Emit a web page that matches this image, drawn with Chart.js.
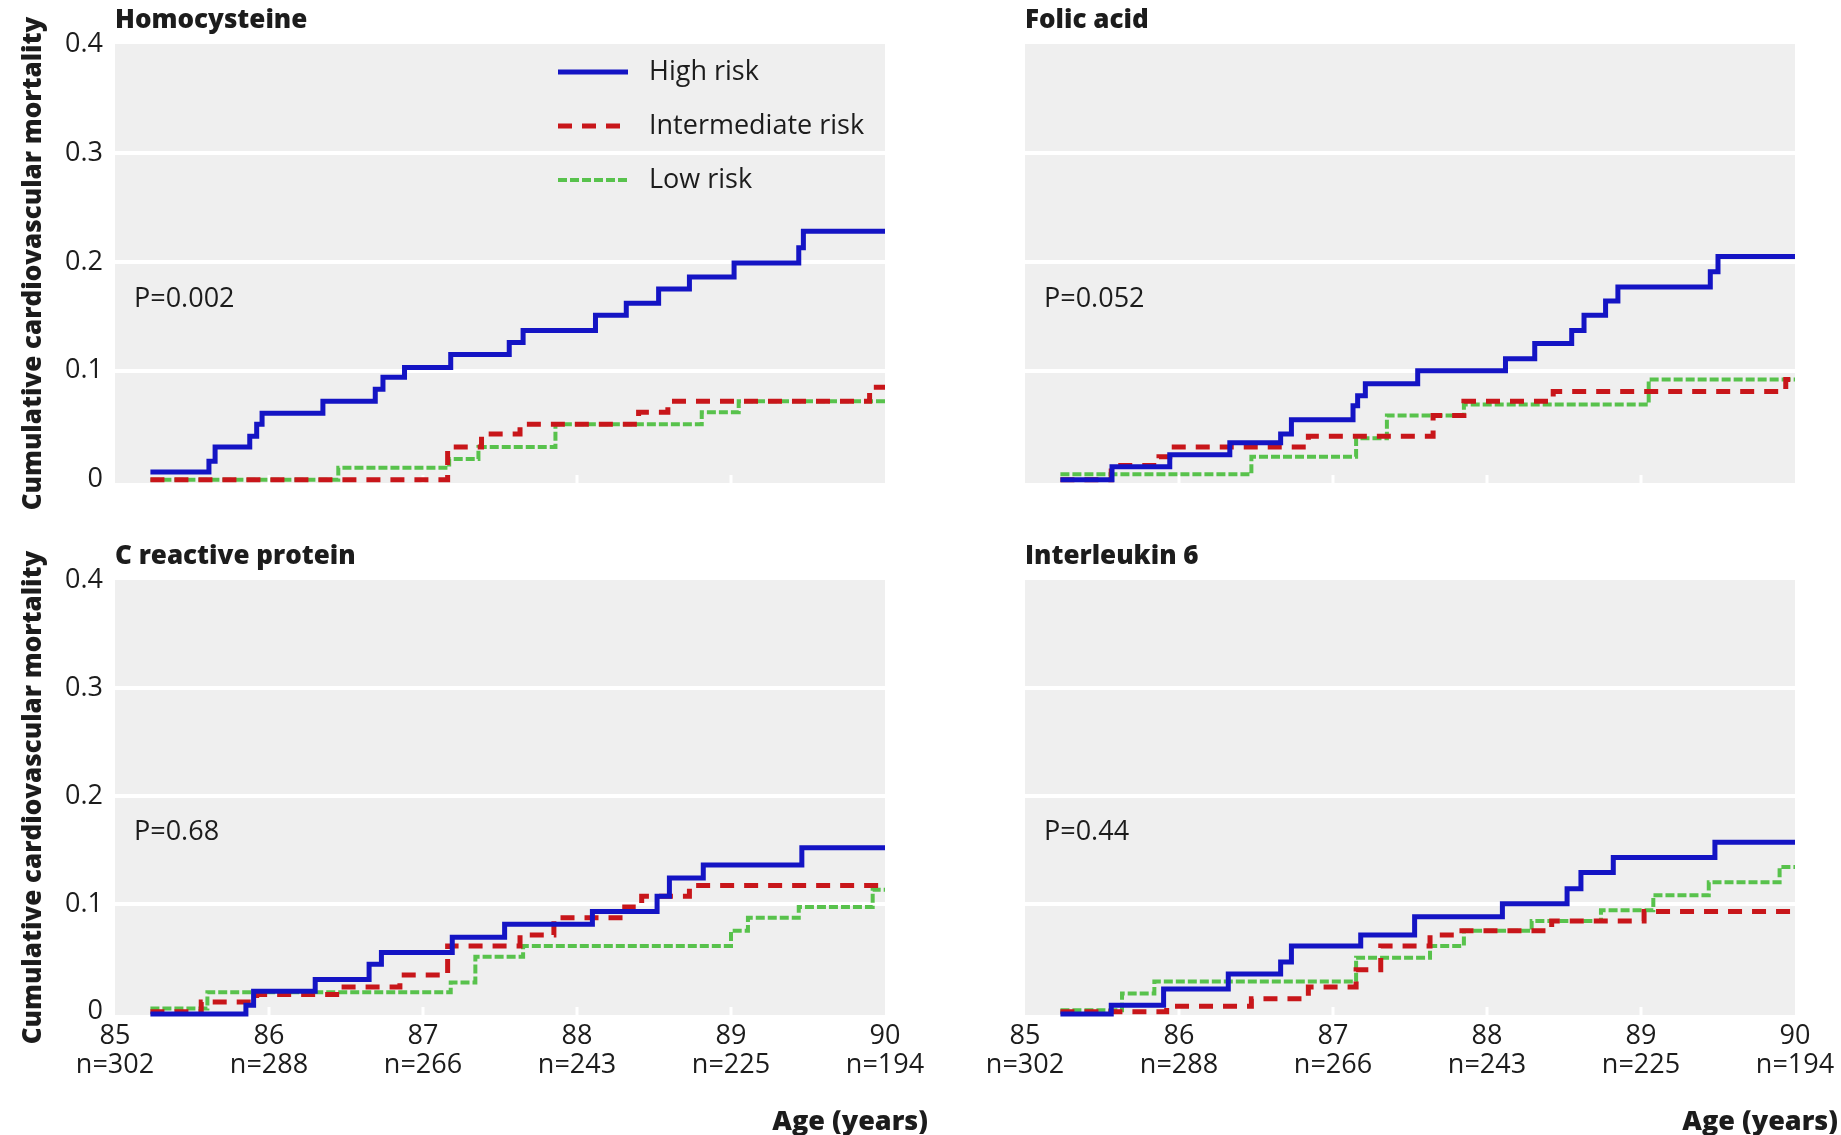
<!DOCTYPE html>
<html>
<head>
<meta charset="utf-8">
<title>Cumulative cardiovascular mortality by risk group</title>
<script src="https://cdn.jsdelivr.net/npm/chart.js@4.4.0/dist/chart.umd.min.js"></script>
<style>
  html, body { margin: 0; padding: 0; background: #fff; }
  #page { position: relative; width: 1841px; height: 1135px; overflow: hidden; }
  .panel { position: absolute; }
  .panel canvas { display: block; }
</style>
</head>
<body>
<div id="page">
  <div class="panel" style="left:0;top:0"><canvas id="homChart" width="920" height="512"></canvas></div>
  <div class="panel" style="left:920px;top:0"><canvas id="folChart" width="921" height="500"></canvas></div>
  <div class="panel" style="left:0;top:500px"><canvas id="crpChart" width="950" height="635"></canvas></div>
  <div class="panel" style="left:920px;top:500px"><canvas id="ilChart" width="921" height="635"></canvas></div>
</div>
<script>
// ---- data (age in years, cumulative mortality) ----
const xTicks = [85, 86, 87, 88, 89, 90];
const atRisk = [302, 288, 266, 243, 225, 194];
const seriesNames = ['High risk', 'Intermediate risk', 'Low risk'];
const panelTitles = ['Homocysteine', 'Folic acid', 'C reactive protein', 'Interleukin 6'];
const pValues = ['P=0.002', 'P=0.052', 'P=0.68', 'P=0.44'];
const yTitle = 'Cumulative cardiovascular mortality';
const xTitle = 'Age (years)';

const homHigh = [[85.23, 0.007], [85.61, 0.017], [85.65, 0.030], [85.875, 0.040], [85.92, 0.051], [85.955, 0.061],
    [86.35, 0.072], [86.69, 0.083], [86.74, 0.094], [86.88, 0.103], [87.18, 0.115], [87.56, 0.126], [87.65, 0.137],
    [88.12, 0.151], [88.32, 0.162], [88.53, 0.175], [88.73, 0.186], [89.02, 0.199], [89.44, 0.213], [89.47, 0.228], [90, 0.228]];
const homInter = [[85.23, 0], [87.16, 0.030], [87.38, 0.042], [87.63, 0.051], [88.40, 0.062], [88.59, 0.072], [89.9, 0.085], [90, 0.085]];
const homLow = [[85.23, 0], [86.45, 0.011], [87.17, 0.019], [87.36, 0.030], [87.86, 0.051], [88.81, 0.062], [89.05, 0.072], [90, 0.072]];

const folHigh = [[85.23, 0], [85.565, 0.012], [85.94, 0.023], [86.33, 0.034], [86.66, 0.042], [86.73, 0.055], [87.13, 0.068],
    [87.16, 0.077], [87.21, 0.088], [87.55, 0.100], [88.12, 0.111], [88.31, 0.125], [88.55, 0.137], [88.63, 0.151],
    [88.77, 0.164], [88.85, 0.177], [89.45, 0.191], [89.50, 0.205], [90, 0.205]];
const folInter = [[85.23, 0], [85.56, 0.013], [85.87, 0.021], [85.94, 0.030], [86.84, 0.040], [87.65, 0.059], [87.85, 0.072],
    [88.43, 0.081], [89.94, 0.092], [90, 0.092]];
const folLow = [[85.23, 0.005], [86.47, 0.021], [87.15, 0.038], [87.35, 0.059], [87.85, 0.069], [89.05, 0.092], [90, 0.092]];

const crpHigh = [[85.23, -0.002], [85.85, 0.006], [85.90, 0.019], [86.30, 0.030], [86.65, 0.044], [86.73, 0.055], [87.19, 0.069],
    [87.53, 0.081], [88.10, 0.093], [88.52, 0.107], [88.60, 0.124], [88.82, 0.136], [89.46, 0.152], [90, 0.152]];
const crpInter = [[85.23, 0], [85.56, 0.009], [85.92, 0.016], [86.47, 0.023], [86.85, 0.034], [87.16, 0.061], [87.63, 0.071],
    [87.85, 0.087], [88.31, 0.097], [88.42, 0.107], [88.73, 0.117], [90, 0.117]];
const crpLow = [[85.23, 0.003], [85.60, 0.018], [87.18, 0.027], [87.34, 0.051], [87.65, 0.061], [89.0, 0.075], [89.11, 0.087],
    [89.44, 0.097], [89.92, 0.113], [90, 0.113]];

const ilHigh = [[85.23, -0.002], [85.56, 0.006], [85.90, 0.021], [86.32, 0.035], [86.66, 0.046], [86.73, 0.061], [87.18, 0.071],
    [87.53, 0.088], [88.10, 0.100], [88.52, 0.114], [88.61, 0.129], [88.82, 0.143], [89.48, 0.157], [90, 0.157]];
const ilInter = [[85.23, 0], [85.92, 0.005], [86.47, 0.012], [86.84, 0.023], [87.15, 0.039], [87.31, 0.061], [87.63, 0.071],
    [87.82, 0.075], [88.42, 0.084], [89.02, 0.093], [90, 0.093]];
const ilLow = [[85.23, 0.0015], [85.63, 0.017], [85.84, 0.028], [87.15, 0.050], [87.63, 0.061], [87.85, 0.075], [88.29, 0.084],
    [88.74, 0.094], [89.08, 0.108], [89.44, 0.120], [89.90, 0.134], [90, 0.134]];

// ---- styles ----
const FONT = "'Open Sans', 'DejaVu Sans', sans-serif";
const TEXT = '#1c1c1c';
const PLOT_BG = '#efefef';
const lineStyles = [
    { color: '#1414c4', width: 5, dash: [] },
    { color: '#c8161a', width: 5, dash: [14, 10] },
    { color: '#58c24c', width: 4, dash: [9, 3] }
];

// background, inner tick marks, titles, p values, legend
const panelDecor = {
    id: 'panelDecor',
    beforeDraw(chart) {
        const { ctx, chartArea: a } = chart;
        ctx.save();
        ctx.fillStyle = PLOT_BG;
        ctx.fillRect(a.left, a.top, a.right - a.left, a.bottom - a.top);
        ctx.restore();
    },
    beforeDatasetsDraw(chart) {
        const { ctx, chartArea: a } = chart;
        const x = chart.scales.x;
        ctx.save();
        ctx.strokeStyle = '#ffffff';
        ctx.lineWidth = 3;
        xTicks.slice(1, -1).forEach(v => {
            const px = x.getPixelForValue(v);
            ctx.beginPath();
            ctx.moveTo(px, a.bottom);
            ctx.lineTo(px, a.bottom - 8);
            ctx.stroke();
        });
        ctx.restore();
    },
    afterDraw(chart, args, opts) {
        const { ctx, chartArea: a } = chart;
        const y = chart.scales.y;
        ctx.save();
        ctx.fillStyle = TEXT;
        ctx.textBaseline = 'middle';

        // panel title
        ctx.font = `800 26px ${FONT}`;
        ctx.textAlign = 'left';
        ctx.fillText(opts.title, a.left, a.top - 23);

        // p value
        ctx.font = `27px ${FONT}`;
        ctx.fillText(opts.pText, a.left + 19, y.getPixelForValue(0.166));

        // legend (top left panel only)
        if (opts.legend) {
            chart.data.datasets.forEach((ds, i) => {
                const ly = a.top + 28 + i * 54;
                ctx.save();
                ctx.strokeStyle = ds.borderColor;
                ctx.lineWidth = ds.borderWidth;
                ctx.setLineDash(ds.borderDash);
                ctx.beginPath();
                ctx.moveTo(a.left + 443, ly);
                ctx.lineTo(a.left + 513, ly);
                ctx.stroke();
                ctx.restore();
                ctx.fillText(ds.label, a.left + 534, ly);
            });
        }

        // x axis title (bottom panels only)
        if (opts.xTitle) {
            ctx.font = `800 27px ${FONT}`;
            ctx.textAlign = 'right';
            ctx.fillText(opts.xTitle, a.right + 43, a.bottom + 107);
        }
        ctx.restore();
    }
};

function makePanel(p) {
    const datasets = p.series.map((pts, i) => ({
        label: seriesNames[i],
        data: pts.map(([x, y]) => ({ x, y })),
        borderColor: lineStyles[i].color,
        borderWidth: lineStyles[i].width,
        borderDash: lineStyles[i].dash,
        borderCapStyle: 'butt',
        stepped: 'before',
        pointRadius: 0,
        fill: false,
        clip: false
    }));

    return new Chart(document.getElementById(p.id), {
        type: 'line',
        data: { datasets },
        plugins: [panelDecor],
        options: {
            responsive: false,
            animation: false,
            events: [],
            layout: { padding: { top: p.padTop, right: p.padRight, bottom: p.padBottom, left: 0 } },
            plugins: {
                legend: { display: false },
                tooltip: { enabled: false },
                panelDecor: { title: p.title, pText: p.pText, legend: p.legend, xTitle: p.bottom ? xTitle : null }
            },
            scales: {
                x: {
                    type: 'linear',
                    min: 85,
                    max: 90,
                    display: p.bottom,
                    grid: { display: false, drawTicks: false },
                    border: { display: false },
                    ticks: {
                        stepSize: 1,
                        autoSkip: false,
                        maxRotation: 0,
                        padding: 6,
                        color: TEXT,
                        font: { family: FONT, size: 27, lineHeight: 1.1 },
                        callback: (v) => {
                            const i = xTicks.indexOf(v);
                            return i < 0 ? '' : [String(v), 'n=' + atRisk[i]];
                        }
                    },
                    afterFit: (s) => { s.height = p.bottom ? 70 : 0; }
                },
                y: {
                    min: -0.003,
                    max: 0.4,
                    grid: {
                        color: (c) => (c.tick.value > 0.05 && c.tick.value < 0.35) ? '#ffffff' : 'rgba(0,0,0,0)',
                        lineWidth: 4,
                        drawTicks: false
                    },
                    border: { display: false },
                    ticks: {
                        display: p.left,
                        stepSize: 0.1,
                        includeBounds: false,
                        padding: 12,
                        color: TEXT,
                        font: { family: FONT, size: 27 },
                        callback: (v) => (Math.abs(v) < 1e-9 ? '0' : v.toFixed(1))
                    },
                    title: {
                        display: p.left,
                        text: yTitle,
                        color: TEXT,
                        font: { family: FONT, size: 26, weight: 800 },
                        padding: { top: 18, bottom: 0 }
                    },
                    afterFit: (s) => { s.width = p.yWidth; }
                }
            }
        }
    });
}

const panels = [
    { id: 'homChart', title: panelTitles[0], pText: pValues[0], series: [homHigh, homInter, homLow],
      left: true, bottom: false, legend: true, yWidth: 115, padTop: 44, padRight: 35, padBottom: 29 },
    { id: 'folChart', title: panelTitles[1], pText: pValues[1], series: [folHigh, folInter, folLow],
      left: false, bottom: false, legend: false, yWidth: 105, padTop: 44, padRight: 46, padBottom: 17 },
    { id: 'crpChart', title: panelTitles[2], pText: pValues[2], series: [crpHigh, crpInter, crpLow],
      left: true, bottom: true, legend: false, yWidth: 115, padTop: 80, padRight: 65, padBottom: 50 },
    { id: 'ilChart', title: panelTitles[3], pText: pValues[3], series: [ilHigh, ilInter, ilLow],
      left: false, bottom: true, legend: false, yWidth: 105, padTop: 80, padRight: 46, padBottom: 50 }
];

const charts = panels.map(makePanel);
</script>
</body>
</html>
